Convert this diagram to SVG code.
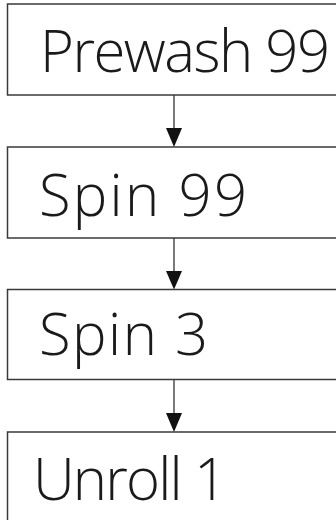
<svg xmlns="http://www.w3.org/2000/svg" width="336" height="520" viewBox="0 0 336 520">
<style>
.box{fill:#fff;stroke:#3a3a3a;stroke-width:1.5}
.lbl{font-family:"Open Sans",Lato,"Liberation Sans",sans-serif;font-weight:300;font-size:58px;fill:#1a1a1a}
.edge{stroke:#222;stroke-width:1.2;fill:none}
.head{fill:#111}
</style>
<rect width="336" height="520" fill="#fff"/>
<g id="connectors">
<line class="edge" x1="174" y1="95" x2="174" y2="130"/>
<polygon class="head" points="166,128 182,128 174,147"/>
<line class="edge" x1="174" y1="238" x2="174" y2="272"/>
<polygon class="head" points="166,271 182,271 174,289.5"/>
<line class="edge" x1="174" y1="380" x2="174" y2="414"/>
<polygon class="head" points="166,413 182,413 174,432"/>
</g>
<g id="node1"><rect class="box" x="7.5" y="4" width="340" height="91"/><text class="lbl" x="40" y="72" textLength="290" lengthAdjust="spacing">Prewash 99</text></g>
<g id="node2"><rect class="box" x="7.5" y="147" width="340" height="91"/><text class="lbl" x="39" y="216" textLength="208" lengthAdjust="spacing">Spin 99</text></g>
<g id="node3"><rect class="box" x="7.5" y="289.5" width="340" height="90"/><text class="lbl" x="39" y="355" textLength="169" lengthAdjust="spacing">Spin 3</text></g>
<g id="node4"><rect class="box" x="7.5" y="432" width="340" height="100"/><text class="lbl" x="33" y="500" textLength="194" lengthAdjust="spacing">Unroll 1</text></g>
</svg>
